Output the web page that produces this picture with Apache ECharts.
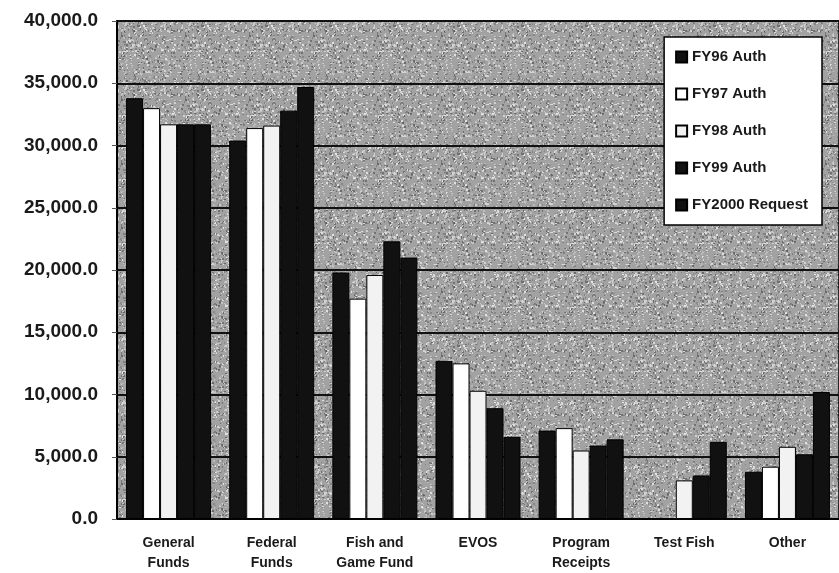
<!DOCTYPE html>
<html>
<head>
<meta charset="utf-8">
<script src="https://cdn.jsdelivr.net/npm/echarts@6/dist/echarts.min.js"></script>
<style>
  html, body { margin: 0; padding: 0; background: #fff; }
  #chart { width: 839px; height: 573px; }
</style>
</head>
<body>
<div id="chart"></div>
<script>
const categories = ['General\nFunds', 'Federal\nFunds', 'Fish and\nGame Fund', 'EVOS', 'Program\nReceipts', 'Test Fish', 'Other']
const fy96 = [33800, 30400, 19800, 12700, 7100, 0, 3800]
const fy97 = [33000, 31400, 17700, 12500, 7300, 0, 4200]
const fy98 = [31700, 31600, 19600, 10300, 5500, 3100, 5800]
const fy99 = [31700, 32800, 22300, 8900, 5900, 3500, 5200]
const fy2000 = [31700, 34700, 21000, 6600, 6400, 6200, 10200]
const seriesNames = ['FY96 Auth', 'FY97 Auth', 'FY98 Auth', 'FY99 Auth', 'FY2000 Request']
const seriesColors = ['#111', '#fff', '#f2f2f2', '#111', '#111']

// speckled gray plot background, like the photocopied original
const makeTexture = () => {
  const c = document.createElement('canvas')
  c.width = 64
  c.height = 64
  const ctx = c.getContext('2d')
  ctx.fillStyle = '#a2a2a2'
  ctx.fillRect(0, 0, 64, 64)
  let s = 12345
  const next = () => {
    s = (s * 1103515245 + 12345) & 0x7fffffff
    return s / 0x7fffffff
  }
  for (let i = 0; i < 700; i++) {
    const g = next() < 0.5 ? Math.floor(100 + next() * 40) : Math.floor(180 + next() * 50)
    ctx.fillStyle = `rgb(${g},${g},${g})`
    ctx.fillRect(Math.floor(next() * 64), Math.floor(next() * 64), 1 + Math.floor(next() * 2), 1 + Math.floor(next() * 2))
  }
  return c
}

const chart = echarts.init(document.getElementById('chart'))

const makeSeries = (name, data, color) => ({
  name,
  type: 'bar',
  data,
  barWidth: 17,
  barGap: '0%',
  itemStyle: {
    color,
    borderColor: '#000',
    borderWidth: 1,
  },
})

const option = {
  animation: false,
  backgroundColor: '#fff',
  textStyle: { fontFamily: 'Liberation Sans, Arial, sans-serif' },
  grid: {
    left: 117,
    right: 0,
    top: 21,
    bottom: 54,
    show: true,
    backgroundColor: { image: makeTexture(), repeat: 'repeat' },
    borderColor: '#000',
    borderWidth: 1.5,
  },
  legend: {
    orient: 'vertical',
    right: 17,
    top: 37,
    padding: [12, 14, 12, 11],
    itemGap: 21,
    itemWidth: 11,
    itemHeight: 11,
    icon: 'rect',
    backgroundColor: '#fff',
    borderColor: '#000',
    borderWidth: 1.5,
    textStyle: { fontSize: 15, fontWeight: 'bold', color: '#1a1a1a', lineHeight: 16 },
    data: seriesNames,
  },
  xAxis: {
    type: 'category',
    data: categories,
    axisLine: { lineStyle: { color: '#000', width: 1.5 } },
    axisTick: { show: false },
    axisLabel: {
      interval: 0,
      color: '#1a1a1a',
      fontSize: 14,
      fontWeight: 'bold',
      lineHeight: 20,
      margin: 14,
    },
  },
  yAxis: {
    type: 'value',
    min: 0,
    max: 40000,
    interval: 5000,
    axisLine: { show: true, lineStyle: { color: '#000', width: 2 } },
    axisTick: { show: true, length: 5, lineStyle: { color: '#555' } },
    splitLine: { lineStyle: { color: '#111', width: 2 } },
    axisLabel: {
      color: '#1a1a1a',
      fontSize: 19,
      fontWeight: 'bold',
      margin: 19,
      formatter: (v) => v.toLocaleString('en-US', { minimumFractionDigits: 1, maximumFractionDigits: 1 }),
    },
  },
  series: [
    makeSeries(seriesNames[0], fy96, seriesColors[0]),
    makeSeries(seriesNames[1], fy97, seriesColors[1]),
    makeSeries(seriesNames[2], fy98, seriesColors[2]),
    makeSeries(seriesNames[3], fy99, seriesColors[3]),
    makeSeries(seriesNames[4], fy2000, seriesColors[4]),
  ],
}

chart.setOption(option)
</script>
</body>
</html>
